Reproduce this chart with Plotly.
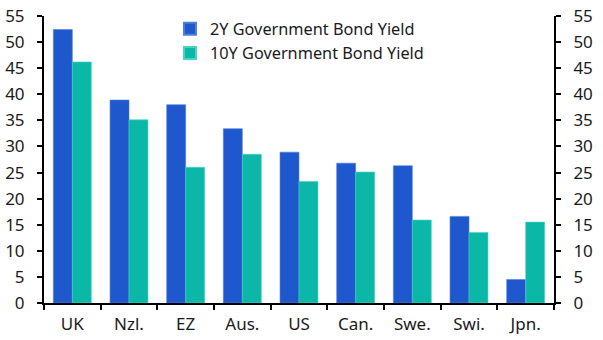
import plotly.graph_objects as go

# Government bond yield by economy
countries = ["UK", "Nzl.", "EZ", "Aus.", "US", "Can.", "Swe.", "Swi.", "Jpn."]
yield_2y = [52.4, 38.9, 38.0, 33.4, 28.9, 26.8, 26.3, 16.6, 4.5]
yield_10y = [46.2, 35.1, 26.0, 28.5, 23.3, 25.1, 15.9, 13.5, 15.5]
y_ticks = list(range(0, 56, 5))

BLUE = "#1f57cc"
TEAL = "#0bb8a8"
INK = "#1a1a1a"
FONT = "Noto Sans"
TICK_SIZE = 17

fig = go.Figure()
fig.add_trace(go.Bar(
    x=countries, y=yield_2y, name="2Y Government Bond Yield",
    marker=dict(color=BLUE, line=dict(color="#4d7fe0", width=0.6)),
))
fig.add_trace(go.Bar(
    x=countries, y=yield_10y, name="10Y Government Bond Yield",
    marker=dict(color=TEAL, line=dict(color="#49d3c6", width=0.6)),
))
# invisible trace so the right-hand axis is rendered
fig.add_trace(go.Scatter(
    x=countries, y=yield_10y, yaxis="y2", mode="none",
    showlegend=False, hoverinfo="skip",
))

axis_common = dict(
    range=[0, 55], tickvals=y_ticks, ticks="outside", ticklen=5, tickwidth=2,
    tickcolor="black", showline=True, linecolor="black", linewidth=2,
    showgrid=False, zeroline=False, automargin=False,
    tickfont=dict(size=TICK_SIZE, color=INK, family=FONT),
    fixedrange=True,
)

fig.update_layout(
    width=603, height=340,
    margin=dict(l=44, r=49, t=14, b=37),
    paper_bgcolor="white", plot_bgcolor="white",
    barmode="group", bargap=0.33, bargroupgap=0,
    font=dict(family=FONT, size=TICK_SIZE, color=INK),
    xaxis=dict(
        type="category", tickson="boundaries", ticks="outside", ticklen=5,
        tickwidth=2, tickcolor="black", showline=True, linecolor="black",
        linewidth=2, showgrid=False, automargin=False,
        tickfont=dict(size=TICK_SIZE, color=INK, family=FONT),
        ticklabelstandoff=5,
    ),
    yaxis=dict(side="left", ticklabelstandoff=9, **axis_common),
    yaxis2=dict(side="right", overlaying="y", ticklabelstandoff=9, **axis_common),
    legend=dict(
        x=0.247, y=1.015, xanchor="left", yanchor="top",
        bgcolor="rgba(0,0,0,0)", font=dict(size=16.3, color=INK, family=FONT),
        tracegroupgap=0, itemsizing="constant",
    ),
    showlegend=True,
)

fig.write_html("out.html")
